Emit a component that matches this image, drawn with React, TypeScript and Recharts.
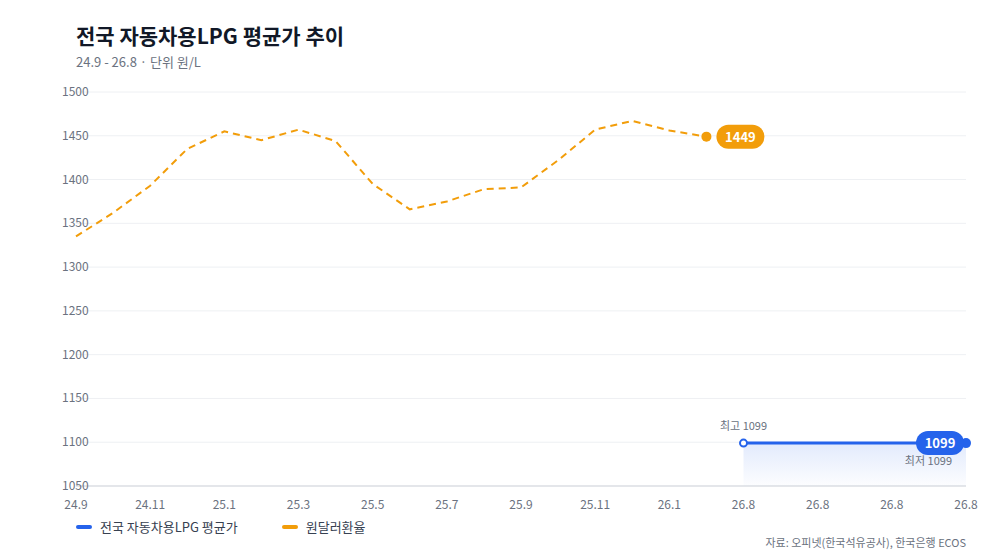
import React from "react";
import {
  ComposedChart,
  Line,
  Area,
  XAxis,
  YAxis,
  CartesianGrid,
} from "recharts";

const months: string[] = [
  "24.9", "24.10", "24.11", "24.12", "25.1", "25.2", "25.3", "25.4", "25.5",
  "25.6", "25.7", "25.8", "25.9", "25.10", "25.11", "25.12", "26.1", "26.2",
  "26.8", "26.8", "26.8", "26.8", "26.8", "26.8", "26.8",
];
const usdKrw: (number | null)[] = [
  1335, 1362, 1393, 1435, 1455, 1445, 1457, 1444, 1395, 1366, 1375, 1389,
  1391, 1422, 1457, 1467, 1456, 1449, null, null, null, null, null, null, null,
];
const lpg: (number | null)[] = [
  null, null, null, null, null, null, null, null, null, null, null, null,
  null, null, null, null, null, null, 1099, 1099, 1099, 1099, 1099, 1099, 1099,
];
const yTicks = [1050, 1100, 1150, 1200, 1250, 1300, 1350, 1400, 1450, 1500];

const ORANGE = "#f29d0a";
const BLUE = "#2563eb";
const GREY = "#6b7280";
const FONT = "'Noto Sans CJK KR', 'Noto Sans', sans-serif";

const data = months.map((m, i) => ({ idx: i, label: m, krw: usdKrw[i], lpg: lpg[i] }));
const lastKrw = 17;
const firstLpg = 18;
const lastLpg = 24;

const YTick = (p: any) => (
  <text x={54} y={p.y} dy={4} textAnchor="start" fontSize={12} fill={GREY} fontFamily={FONT}>
    {p.payload.value}
  </text>
);

const KrwDot = (p: any) => {
  if (p.index !== lastKrw) return null;
  return (
    <g>
      <circle cx={p.cx} cy={p.cy} r={5} fill={ORANGE} />
      <rect x={p.cx + 10} y={p.cy - 12} width={48} height={24} rx={12} fill={ORANGE} />
      <text x={p.cx + 34} y={p.cy + 5} textAnchor="middle" fontSize={13} fontWeight={700} fill="#fff" fontFamily={FONT}>
        {usdKrw[lastKrw]}
      </text>
    </g>
  );
};

const LpgDot = (p: any) => {
  if (p.index === firstLpg) {
    return (
      <g>
        <circle cx={p.cx} cy={p.cy} r={3.5} fill="#fff" stroke={BLUE} strokeWidth={2} />
        <text x={p.cx} y={p.cy - 13} textAnchor="middle" fontSize={11} fill={GREY} fontFamily={FONT}>
          최고 {lpg[firstLpg]}
        </text>
      </g>
    );
  }
  if (p.index === lastLpg) {
    return (
      <g>
        <circle cx={p.cx} cy={p.cy} r={5} fill={BLUE} />
        <rect x={p.cx - 50} y={p.cy - 12} width={48} height={24} rx={12} fill={BLUE} />
        <text x={p.cx - 26} y={p.cy + 5} textAnchor="middle" fontSize={13} fontWeight={700} fill="#fff" fontFamily={FONT}>
          {lpg[lastLpg]}
        </text>
        <text x={p.cx - 14} y={p.cy + 22} textAnchor="end" fontSize={11} fill={GREY} fontFamily={FONT}>
          최저 {lpg[lastLpg]}
        </text>
      </g>
    );
  }
  return null;
};

export default function App() {
  return (
    <div style={{ position: "relative", width: 984, height: 544, fontFamily: FONT, background: "#fff" }}>
      <div style={{ position: "absolute", left: 68, top: 12, fontSize: 21, fontWeight: 700, color: "#111827" }}>
        전국 자동차용LPG 평균가 추이
      </div>
      <div style={{ position: "absolute", left: 68, top: 44, fontSize: 13, color: GREY }}>
        24.9 - 26.8 · 단위 원/L
      </div>
      <ComposedChart
        width={984}
        height={544}
        data={data}
        margin={{ top: 84, right: 26, bottom: 36, left: 38 }}
      >
        <defs>
          <linearGradient id="lpgFill" x1="0" y1="0" x2="0" y2="1">
            <stop offset="0%" stopColor={BLUE} stopOpacity={0.22} />
            <stop offset="100%" stopColor={BLUE} stopOpacity={0.02} />
          </linearGradient>
        </defs>
        <CartesianGrid vertical={false} stroke="#eef0f3" />
        <XAxis
          dataKey="idx"
          type="category"
          interval={1}
          tickFormatter={(v: number) => months[v]}
          tick={{ fontSize: 12, fill: GREY, fontFamily: FONT }}
          tickLine={false}
          axisLine={{ stroke: "#d1d5db" }}
          height={30}
          tickMargin={8}
        />
        <YAxis
          domain={[1050, 1500]}
          ticks={yTicks}
          width={30}
          tick={YTick}
          axisLine={false}
          tickLine={false}
        />
        <Area
          dataKey="lpg"
          type="linear"
          stroke={BLUE}
          strokeWidth={3}
          fill="url(#lpgFill)"
          baseValue={1050}
          dot={LpgDot}
          activeDot={false}
          isAnimationActive={false}
        />
        <Line
          dataKey="krw"
          type="linear"
          stroke={ORANGE}
          strokeWidth={2}
          strokeDasharray="7 5"
          dot={KrwDot}
          activeDot={false}
          isAnimationActive={false}
        />
      </ComposedChart>
      <div style={{ position: "absolute", left: 68, top: 509, display: "flex", gap: 44, fontSize: 13, color: "#374151" }}>
        <span style={{ display: "flex", alignItems: "center", gap: 8 }}>
          <span style={{ width: 16, height: 4, borderRadius: 2, background: BLUE }} />전국 자동차용LPG 평균가
        </span>
        <span style={{ display: "flex", alignItems: "center", gap: 8 }}>
          <span style={{ width: 16, height: 4, borderRadius: 2, background: ORANGE }} />원달러환율
        </span>
      </div>
      <div style={{ position: "absolute", right: 26, top: 526, fontSize: 11, color: GREY }}>
        자료: 오피넷(한국석유공사), 한국은행 ECOS
      </div>
    </div>
  );
}
